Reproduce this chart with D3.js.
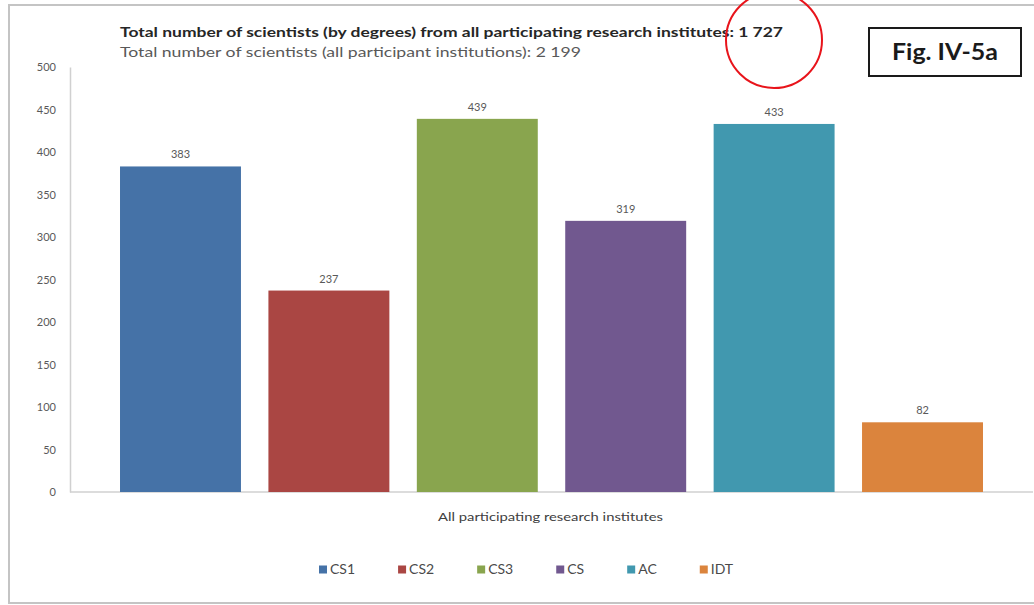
<!DOCTYPE html>
<head>
  <meta charset="utf-8">
  <style>
    body { margin: 0; background: #fff; }
    svg { display: block; font-family: Lato, "Open Sans", sans-serif; }
  </style>
  <script src="https://cdn.jsdelivr.net/npm/d3@7"></script>
</head>
<body>
<div id=chart></div>
<script>
// data
const categories = ['CS1', 'CS2', 'CS3', 'CS', 'AC', 'IDT']
const values = [383, 237, 439, 319, 433, 82]
const colors = ['#4572a7', '#aa4643', '#89a54e', '#71588f', '#4198af', '#db843d']
const y_ticks = [0, 50, 100, 150, 200, 250, 300, 350, 400, 450, 500]
const title_1 = 'Total number of scientists (by degrees) from all participating research institutes: 1 727'
const title_2 = 'Total number of scientists (all participant institutions): 2 199'
const x_label = 'All participating research institutes'
const fig_label = 'Fig. IV-5a'

const width = 1034, height = 605
const svg = d3.select('#chart').append('svg')
  .attr('width', width).attr('height', height)

// outer frame (runs off the right edge)
svg.append('path')
  .attr('d', 'M1040,5 H9 V603 H1040')
  .attr('fill', 'none').attr('stroke', '#c4c4c4').attr('stroke-width', 2)

const plot = { left: 70, right: 1033, top: 67, bottom: 492 }

const x = d3.scaleBand()
  .domain(categories)
  .range([plot.left, plot.right])
  .paddingInner(0.185)
  .paddingOuter(0.337)
const y = d3.scaleLinear().domain([0, 500]).range([plot.bottom, plot.top])

// y axis
const y_axis = svg.append('g')
  .attr('transform', `translate(${plot.left},0)`)
  .call(d3.axisLeft(y).tickValues(y_ticks).tickSize(0).tickPadding(14))
y_axis.select('.domain').attr('stroke', '#d0d0d0').attr('stroke-width', 1.5)
y_axis.selectAll('text')
  .attr('font-family', 'Lato, sans-serif').attr('font-size', 11).attr('fill', '#595959')

// baseline
svg.append('line')
  .attr('x1', plot.left).attr('x2', plot.right)
  .attr('y1', y(0)).attr('y2', y(0))
  .attr('stroke', '#d0d0d0').attr('stroke-width', 1.5)

const data = categories.map((c, i) => ({ c, v: values[i], color: colors[i] }))

svg.append('g').selectAll('rect').data(data).join('rect')
  .attr('x', d => x(d.c))
  .attr('width', x.bandwidth())
  .attr('y', d => y(d.v))
  .attr('height', d => y(0) - y(d.v))
  .attr('fill', d => d.color)

svg.append('g').selectAll('text').data(data).join('text')
  .attr('x', d => x(d.c) + x.bandwidth() / 2)
  .attr('y', d => y(d.v) - 8)
  .attr('text-anchor', 'middle')
  .attr('font-size', 11).attr('fill', '#595959')
  .text(d => d.v)

// titles
svg.append('text')
  .attr('x', 120).attr('y', 37)
  .attr('font-size', 14).attr('font-weight', 'bold').attr('fill', '#262626')
  .attr('textLength', 663).attr('lengthAdjust', 'spacingAndGlyphs')
  .text(title_1)
svg.append('text')
  .attr('x', 120).attr('y', 57)
  .attr('font-size', 14).attr('fill', '#595959')
  .attr('textLength', 461).attr('lengthAdjust', 'spacingAndGlyphs')
  .text(title_2)

// x axis title
svg.append('text')
  .attr('x', (plot.left + plot.right) / 2 - 1).attr('y', 521)
  .attr('text-anchor', 'middle')
  .attr('font-size', 12).attr('fill', '#404040')
  .attr('textLength', 225).attr('lengthAdjust', 'spacingAndGlyphs')
  .text(x_label)

// legend
const legend = svg.append('g')
let lx = 0
data.forEach(d => {
  const g = legend.append('g').attr('transform', `translate(${lx},0)`)
  g.append('rect').attr('x', 0).attr('y', -8.5).attr('width', 8).attr('height', 8).attr('fill', d.color)
  const t = g.append('text').attr('x', 11).attr('y', 0)
    .attr('font-size', 14).attr('fill', '#4a4a4a').text(d.c)
  lx += 11 + t.node().getComputedTextLength() + 43
})
legend.attr('transform', 'translate(319,574)')

// figure label box
svg.append('rect')
  .attr('x', 869).attr('y', 28).attr('width', 152).attr('height', 48)
  .attr('fill', '#fff').attr('stroke', '#1a1a1a').attr('stroke-width', 2)
svg.append('text')
  .attr('x', 945).attr('y', 60)
  .attr('text-anchor', 'middle')
  .attr('font-size', 22).attr('font-weight', 'bold').attr('fill', '#1a1a1a')
  .attr('textLength', 106).attr('lengthAdjust', 'spacingAndGlyphs')
  .text(fig_label)

// red annotation circle
svg.append('ellipse')
  .attr('cx', 774).attr('cy', 40).attr('rx', 48).attr('ry', 48)
  .attr('fill', 'none').attr('stroke', '#e8141b').attr('stroke-width', 2)
</script>
</body>
